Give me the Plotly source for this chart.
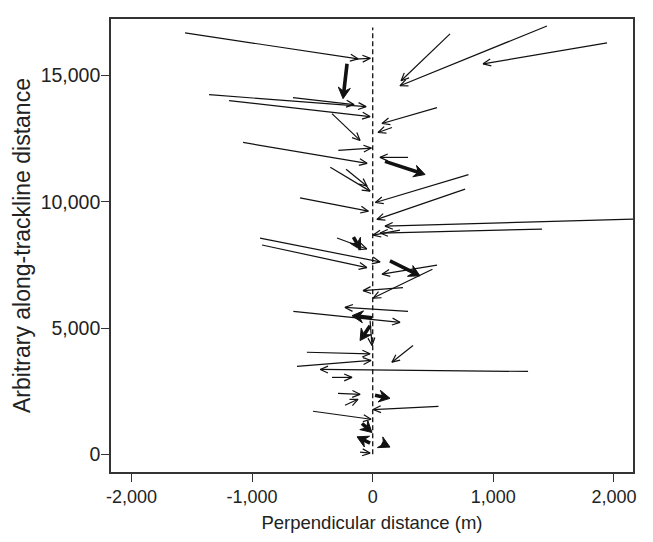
import numpy as np
import plotly.graph_objects as go

# Thin arrows: tail (x0, y0) -> head (x1, y1)
thin_x0 = [-1556, -150, 641, 1445, 1943, -1357, -1191, -661, -338, 533, 160, -1075, -285, 293,
           -352, -221, 794, 766, -603, 2400, 1404, 226, -934, -918, -296, 533, 495, 251, 293,
           -658, -22, -546, 334, -628, 1288, -338, -288, -230, 545, -495, -105]
thin_y0 = [16685, 15650, 16646, 16961, 16291, 14241, 14005, 14123, 13493, 13729, 12941, 12349, 12034, 11758,
           11367, 11288, 11076, 10504, 10154, 9346, 8920, 8880, 8565, 8289, 8565, 7489, 7331, 6601, 5660,
           5660, 5294, 4044, 4308, 3486, 3283, 3047, 2416, 1943, 1904, 1707, 91]
thin_x1 = [-122, -20, 235, 226, 915, -55, -22, -155, -105, 77, 44, -47, -11, 60,
           -22, -47, 22, 35, -36, 102, 61, 3, 61, -49, -49, 77, 3, -80, -230,
           226, -6, -22, 159, -14, -435, -172, -105, -122, 3, -14, -22]
thin_y1 = [15660, 15680, 14793, 14596, 15463, 13768, 13374, 13847, 12429, 13099, 12744, 11522, 12126, 11758,
           10422, 10619, 9972, 9302, 9630, 9038, 8762, 8683, 7619, 7396, 8131, 7135, 6188, 6483, 5818,
           5227, 4309, 3981, 3650, 3718, 3362, 3047, 2377, 2180, 1774, 1391, 51]

# Thick arrows
thick_x0 = [-213, 102, -160, 143, -6, -22, 19, -89, -22, 75]
thick_y0 = [15463, 11600, 8600, 7659, 5412, 5096, 2337, 1222, 447, 447]
thick_x1 = [-246, 434, -100, 392, -172, -105, 143, -6, -130, 143]
thick_y1 = [14084, 11080, 8100, 7068, 5491, 4506, 2219, 867, 694, 288]

x_ticks = [-2000, -1000, 0, 1000, 2000]
x_labels = ["-2,000", "-1,000", "0", "1,000", "2,000"]
y_ticks = [0, 5000, 10000, 15000]
y_labels = ["0", "5,000", "10,000", "15,000"]

X_RANGE = [-2170, 2158]
Y_RANGE = [-698, 17237]
W, H = 653, 542
M = dict(l=103, r=28, t=9, b=78)
sx = (W - M["l"] - M["r"]) / (X_RANGE[1] - X_RANGE[0])
sy = (H - M["t"] - M["b"]) / (Y_RANGE[1] - Y_RANGE[0])


def unit(x0, y0, x1, y1):
    dx, dy = (x1 - x0) * sx, (y1 - y0) * sy
    n = np.hypot(dx, dy) or 1.0
    return dx / n, dy / n


def to_data(hx, hy, px_dx, px_dy):
    return hx + px_dx / sx, hy + px_dy / sy


lx, ly = [], []
for x0, y0, x1, y1 in zip(thin_x0, thin_y0, thin_x1, thin_y1):
    ux, uy = unit(x0, y0, x1, y1)
    L, a = 8.5, np.radians(24)
    lx += [x0, x1, None]
    ly += [y0, y1, None]
    for s in (1, -1):
        bx = -L * np.cos(a) * ux - s * L * np.sin(a) * (-uy)
        by = -L * np.cos(a) * uy - s * L * np.sin(a) * ux
        px_, py_ = to_data(x1, y1, bx, by)
        lx += [px_, x1]
        ly += [py_, y1]
    lx.append(None)
    ly.append(None)

tx, ty, fx, fy = [], [], [], []
for x0, y0, x1, y1 in zip(thick_x0, thick_y0, thick_x1, thick_y1):
    ux, uy = unit(x0, y0, x1, y1)
    Lh, Wh = 11.0, 6.0
    nx, ny = -uy, ux
    notch = to_data(x1, y1, -0.65 * Lh * ux, -0.65 * Lh * uy)
    w1 = to_data(x1, y1, -Lh * ux + Wh * nx, -Lh * uy + Wh * ny)
    w2 = to_data(x1, y1, -Lh * ux - Wh * nx, -Lh * uy - Wh * ny)
    tx += [x0, notch[0], None]
    ty += [y0, notch[1], None]
    fx += [x1, w1[0], notch[0], w2[0], x1, None]
    fy += [y1, w1[1], notch[1], w2[1], y1, None]

fig = go.Figure()
fig.add_trace(go.Scatter(x=[0, 0], y=[0, 16900], mode="lines",
                         line=dict(color="#111", width=1.3, dash="5px,3px"), hoverinfo="skip"))
fig.add_trace(go.Scatter(x=lx, y=ly, mode="lines", line=dict(color="#111", width=1.2), hoverinfo="skip"))
fig.add_trace(go.Scatter(x=tx, y=ty, mode="lines", line=dict(color="#111", width=3.6), hoverinfo="skip"))
fig.add_trace(go.Scatter(x=fx, y=fy, mode="lines", fill="toself", fillcolor="#111",
                         line=dict(color="#111", width=1), hoverinfo="skip"))

FONT = "Liberation Sans, Arial"
axis_common = dict(showgrid=False, zeroline=False, showline=True, linecolor="#333", linewidth=1.6,
                   mirror=True, ticks="outside", ticklen=8, tickwidth=1.3, tickcolor="#333")
fig.update_xaxes(range=X_RANGE, tickvals=x_ticks, ticktext=x_labels,
                 tickfont=dict(family=FONT, size=18, color="#222"),
                 title=dict(text="Perpendicular distance (m)", font=dict(family=FONT, size=18.5, color="#222"), standoff=10),
                 **axis_common)
fig.update_yaxes(range=Y_RANGE, tickvals=y_ticks, ticktext=y_labels, ticklabelstandoff=-3,
                 tickfont=dict(family=FONT, size=19.5, color="#222"),
                 title=dict(text="Arbitrary along-trackline distance", font=dict(family=FONT, size=23, color="#222"), standoff=4),
                 **axis_common)
fig.update_layout(width=W, height=H, margin=M, showlegend=False,
                  plot_bgcolor="white", paper_bgcolor="white")
fig.write_html("out.html")
